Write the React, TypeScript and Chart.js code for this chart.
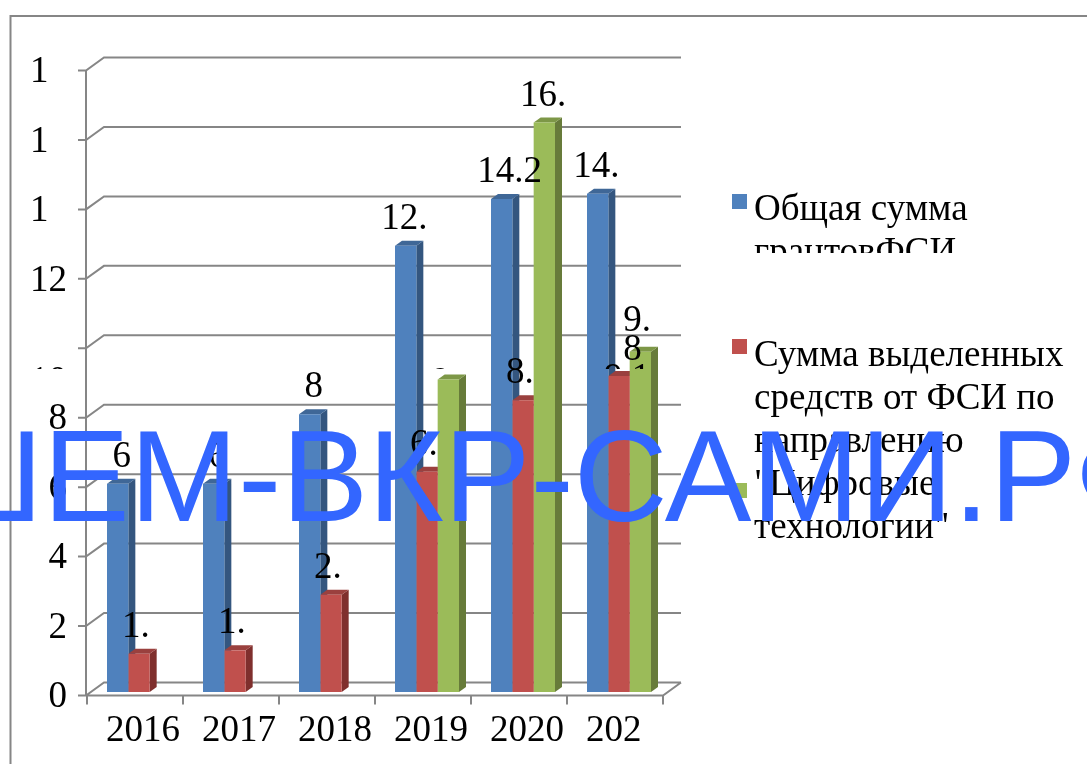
import React, { useEffect, useRef } from "react";
import { Chart, registerables } from "chart.js";

Chart.register(...registerables);

const NB = "\u00a0";
const categories = ["2016", "2017", "2018", "2019", "2020", `202${NB}${NB}`];
const yTickLabels = ["0", "2", "4", "6", "8", "", "12", `1${NB}${NB}`, `1${NB}${NB}`, `1${NB}${NB}`];
const clippedTickLabel = "10";

const totalGrants = [6, 6, 8, 12.85, 14.2, 14.35];
const directionFunds = [1.1, 1.2, 2.8, 6.34, 8.4, 9.1];
const digitalTech = [null, null, null, 9.0, 16.4, 9.8];

const totalLabels = ["6", "6", "8", "12.", "14.2", "14."];
const directionLabels = ["1.", "1.", "2.", "6.", "8.", "9.1"];
const digitalLabels = [null, null, null, "9.", "16.", ["9.", "8"]];

const legendEntries = [
  { lines: ["Общая сумма", "грантовФСИ"], clipBelow: 253 },
  { lines: ["Сумма выделенных", "средств от ФСИ по", "направлению", "\"Цифровые", "технологии\""], clipBelow: 999 },
  { lines: [] as string[], clipBelow: 999 },
];

const watermark = "РЕШЕМ-ВКР-САМИ.РФ";

const GRID = "#868686";
const SERIF = "'Liberation Serif'";
const TEXT_SIZE = 37;
const faces = ["#4F81BD", "#C0504D", "#9BBB59"];
const sides = ["#34567F", "#7F2F2D", "#677B3A"];
const tops = ["#3F6797", "#9A403E", "#7D9747"];
const seriesLabels = [totalLabels, directionLabels, digitalLabels];

// labels that only show their top sliver in the reference
const slivers = new Set(["1:5", "2:3"]);
const SLIVER_EDGE = 369;

const DEPTH_X = 7;
const DEPTH_Y = 5;

const chartDecor = {
  id: "chartDecor",
  beforeDatasetsDraw(chart: any) {
    const { ctx, scales } = chart;
    const y = scales.y;
    const x = scales.x;
    ctx.save();

    // outer frame
    ctx.strokeStyle = GRID;
    ctx.lineWidth = 2;
    ctx.beginPath();
    ctx.moveTo(10.5, 764);
    ctx.lineTo(10.5, 16);
    ctx.lineTo(1087, 16);
    ctx.stroke();

    // "10" only shows its top edge
    ctx.save();
    ctx.beginPath();
    ctx.rect(0, 0, 1087, SLIVER_EDGE);
    ctx.clip();
    ctx.fillStyle = "#000";
    ctx.font = `${TEXT_SIZE}px ${SERIF}`;
    ctx.textAlign = "right";
    ctx.textBaseline = "alphabetic";
    ctx.fillText(clippedTickLabel, 67, 392);
    ctx.restore();

    // walls and floor
    const catW = x.getPixelForValue(1) - x.getPixelForValue(0);
    const frontX0 = x.left - 4;
    const frontX1 = x.right - 4;
    const backDx = 18;
    const backDy = -13;
    const front = (v: number) => y.getPixelForValue(v) + 3.5;
    ctx.strokeStyle = GRID;
    ctx.lineWidth = 2;
    ctx.beginPath();
    for (let v = 0; v <= 18; v += 2) {
      const py = front(v);
      ctx.moveTo(frontX0 - 9, py);
      ctx.lineTo(frontX0 - 1, py);
      ctx.lineTo(frontX0 + backDx - 1, py + backDy);
      ctx.lineTo(frontX1 + backDx, py + backDy);
    }
    ctx.moveTo(frontX0 - 1, front(18));
    ctx.lineTo(frontX0 - 1, front(0));
    ctx.lineTo(frontX1, front(0));
    ctx.lineTo(frontX1 + backDx, front(0) + backDy);
    for (let i = 0; i <= categories.length; i++) {
      const px = frontX0 + catW * i;
      ctx.moveTo(px, front(0));
      ctx.lineTo(px, front(0) + 9);
    }
    ctx.stroke();

    // 3D side and top faces, behind the front faces Chart.js paints next
    chart.data.datasets.forEach((_: any, d: number) => {
      chart.getDatasetMeta(d).data.forEach((bar: any, i: number) => {
        const val = chart.data.datasets[d].data[i];
        if (val == null) return;
        const left = bar.x - bar.width / 2;
        const right = bar.x + bar.width / 2;
        ctx.fillStyle = sides[d];
        ctx.beginPath();
        ctx.moveTo(right, bar.y);
        ctx.lineTo(right + DEPTH_X, bar.y - DEPTH_Y);
        ctx.lineTo(right + DEPTH_X, bar.base - DEPTH_Y);
        ctx.lineTo(right, bar.base);
        ctx.closePath();
        ctx.fill();
        ctx.fillStyle = tops[d];
        ctx.beginPath();
        ctx.moveTo(left, bar.y);
        ctx.lineTo(left + DEPTH_X, bar.y - DEPTH_Y);
        ctx.lineTo(right + DEPTH_X, bar.y - DEPTH_Y);
        ctx.lineTo(right, bar.y);
        ctx.closePath();
        ctx.fill();
      });
    });
    ctx.restore();
  },
  afterDatasetsDraw(chart: any) {
    const { ctx } = chart;
    ctx.save();

    // data labels
    ctx.font = `${TEXT_SIZE}px ${SERIF}`;
    ctx.fillStyle = "#000";
    ctx.textAlign = "left";
    ctx.textBaseline = "alphabetic";
    seriesLabels.forEach((labels: any[], d: number) => {
      chart.getDatasetMeta(d).data.forEach((bar: any, i: number) => {
        const label = labels[i];
        if (label == null) return;
        if (Array.isArray(label)) {
          const left = bar.x + 6 - (ctx.measureText(label[0]).width + 18.5) / 2;
          ctx.fillText(label[0], left, bar.y - 21);
          ctx.fillText(label[1], left, bar.y + 8);
          return;
        }
        const dotted = label.endsWith(".");
        const hidden = dotted ? 18.5 : 0;
        const nudge = label.length === 1 ? 4 : label.length === 2 ? 6 : 8;
        const left = bar.x + nudge - (ctx.measureText(label).width + hidden) / 2;
        if (slivers.has(`${d}:${i}`)) {
          ctx.save();
          ctx.beginPath();
          ctx.rect(0, 0, 1087, SLIVER_EDGE);
          ctx.clip();
          ctx.fillText(label, left, bar.y + 13);
          ctx.restore();
        } else {
          ctx.fillText(label, left, bar.y - 17);
        }
      });
    });

    // legend
    const markerTops = [194, 339, 483];
    const firstBaselines = [220, 366, 0];
    legendEntries.forEach((entry, d) => {
      ctx.fillStyle = faces[d];
      ctx.fillRect(732, markerTops[d], 15, 15);
      ctx.save();
      ctx.beginPath();
      ctx.rect(0, 0, 1087, entry.clipBelow);
      ctx.clip();
      ctx.fillStyle = "#000";
      ctx.font = `${TEXT_SIZE}px ${SERIF}`;
      entry.lines.forEach((line, n) => {
        ctx.fillText(line, 754, firstBaselines[d] + n * 43);
      });
      ctx.restore();
    });

    // watermark
    ctx.fillStyle = "#3366FF";
    ctx.font = "130px 'Liberation Sans'";
    ctx.textAlign = "center";
    ctx.fillText(watermark, 462, 521);
    ctx.restore();
  },
};

export default function App() {
  const ref = useRef<HTMLCanvasElement>(null);
  useEffect(() => {
    const chart = new Chart(ref.current as HTMLCanvasElement, {
      type: "bar",
      data: {
        labels: categories,
        datasets: [
          { label: "Общая сумма грантовФСИ", data: totalGrants, backgroundColor: faces[0] },
          { label: "Сумма выделенных средств от ФСИ по направлению \"Цифровые технологии\"", data: directionFunds, backgroundColor: faces[1] },
          { label: "", data: digitalTech, backgroundColor: faces[2] },
        ],
      } as any,
      options: {
        animation: false,
        responsive: false,
        layout: { padding: { top: 67, right: 420, left: 0, bottom: 0 } },
        datasets: { bar: { barPercentage: 1, categoryPercentage: 2 / 3 } },
        plugins: { legend: { display: false }, tooltip: { enabled: false }, title: { display: false } },
        scales: {
          x: {
            grid: { display: false },
            border: { display: false },
            ticks: {
              color: "#000",
              font: { family: "Liberation Serif", size: TEXT_SIZE },
              padding: 9,
              labelOffset: 4,
              maxRotation: 0,
              autoSkip: false,
            },
            afterFit: (s: any) => {
              s.height = 72;
            },
          },
          y: {
            min: 0,
            max: 18,
            grid: { display: false },
            border: { display: false },
            ticks: {
              stepSize: 2,
              color: "#000",
              font: { family: "Liberation Serif", size: TEXT_SIZE },
              padding: 16,
              labelOffset: 5.5,
              autoSkip: false,
              callback: (_v: any, i: number) => yTickLabels[i],
            },
            afterFit: (s: any) => {
              s.width = 91;
            },
          },
        },
      } as any,
      plugins: [chartDecor],
    });
    return () => chart.destroy();
  }, []);
  return (
    <div style={{ position: "absolute", left: 0, top: 0, width: 1087, height: 764, overflow: "hidden" }}>
      <canvas ref={ref} width={1087} height={764} style={{ display: "block" }} />
    </div>
  );
}
